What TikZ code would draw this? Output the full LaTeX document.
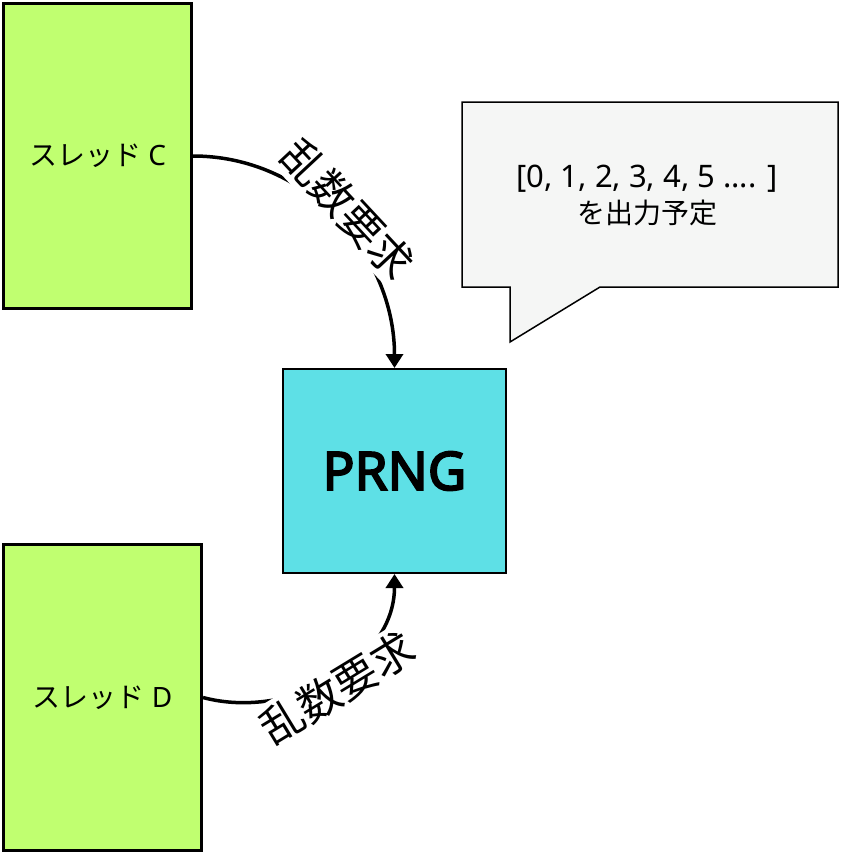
\documentclass[tikz,border=0pt]{standalone}
\usepackage{fontspec}
\setmainfont{Noto Sans}[AutoFakeBold=3.5]
\newfontfamily\jpfont{Noto Sans CJK JP}
\usetikzlibrary{arrows.meta, positioning}

\definecolor{threadgreen}{RGB}{192,255,112}
\definecolor{prngcyan}{RGB}{94,224,230}
\definecolor{notegray}{RGB}{245,246,245}

\begin{document}
\begin{tikzpicture}[
    x=1pt, y=-1pt,
    thread box/.style={
        rectangle,
        draw,
        line width=3pt,
        fill=threadgreen,
        font=\fontsize{28}{34}\selectfont,
    },
    prng box/.style={
        rectangle,
        draw,
        line width=2pt,
        fill=prngcyan,
        minimum width=223pt,
        minimum height=204pt,
        font=\fontsize{53}{60}\selectfont\bfseries,
    },
    request/.style={
        line width=3.5pt,
        -{Triangle[length=14pt, width=17pt]},
    },
    request text/.style={
        sloped,
        fill=white,
        inner sep=5pt,
        font=\fontsize{43}{48}\selectfont\jpfont,
    }
]
\useasboundingbox (0,0) rectangle (841,854);

\node[thread box, minimum width=188pt, minimum height=305pt] (threadC) at (97.5,156) {{\jpfont スレッド} C};
\node[thread box, minimum width=198pt, minimum height=306pt] (threadD) at (102.5,697.5) {{\jpfont スレッド} D};
\node[prng box] (prng) at (394.5,471) {PRNG};

% speech bubble
\draw[line width=1.5pt, fill=notegray] (462,102) -- (838,102) -- (838,287) -- (600,287)
    -- (510,342) -- (510,287) -- (462,287) -- cycle;
\node[align=center, font=\fontsize{31}{36}\selectfont] (note) at (647,195)
    {[0, 1, 2, 3, 4, 5 .... ]\\{\fontsize{28}{36}\selectfont\jpfont を出力予定}};

\draw[request] (threadC.east) to[out=0, in=90]
    node[request text, yshift=15pt] {乱数要求} (prng.north);
\draw[request] (threadD.east) to[out=-15, in=-90]
    node[request text, yshift=-12pt] {乱数要求} (prng.south);
\end{tikzpicture}
\end{document}
